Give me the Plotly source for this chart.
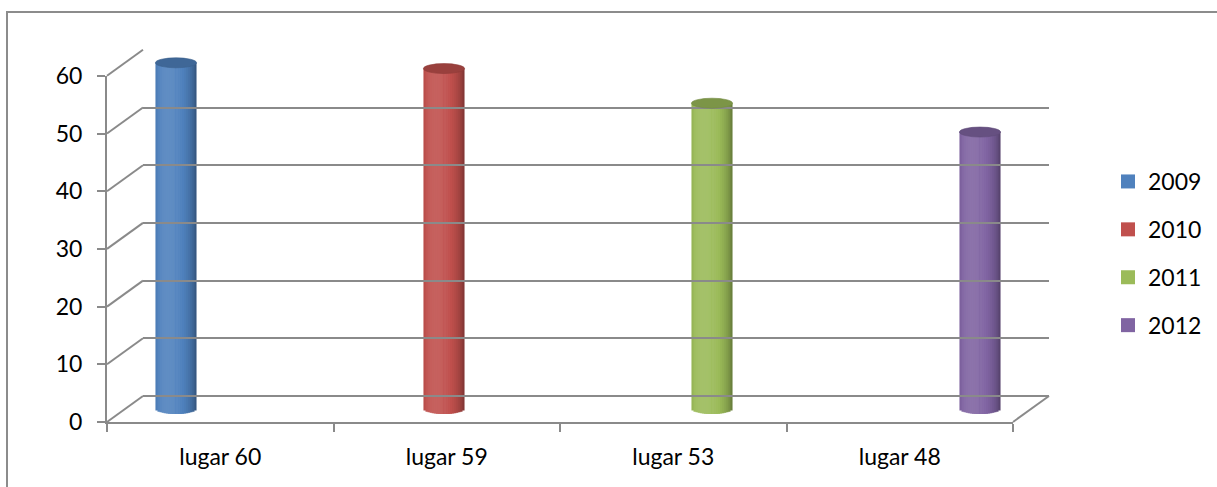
import math
import plotly.graph_objects as go

# ---- data ----
categories = ["lugar 60", "lugar 59", "lugar 53", "lugar 48"]
series_names = ["2009", "2010", "2011", "2012"]
values = [60, 59, 53, 48]
series_colors = ["#4f81bd", "#c0504d", "#9bbb59", "#8064a2"]
y_ticks = [0, 10, 20, 30, 40, 50, 60]

# ---- page geometry (pixels) ----
W, H = 1217, 487
FRONT_L, FRONT_R = 107, 1013      # front plane of the x axis
FRONT_ZERO = 422                  # y pixel of value 0 on the front plane
PX_PER_UNIT = 5.77                # pixels per value unit
DEPTH_DX, DEPTH_DY = 36, -26      # shift from front plane to back wall
Y_MAX = 60
GRID = "#8a8a8a"
FONT = "Lato"
FS = 23


def xdom(l, r):
    return [l / W, r / W]


def ydom(top, bottom):
    return [1 - bottom / H, 1 - top / H]


def px_to_paper(x, y):
    return x / W, 1 - y / H


# plane positions
mid_dx, mid_dy = DEPTH_DX / 2, DEPTH_DY / 2
mid_zero = FRONT_ZERO + mid_dy
back_zero = FRONT_ZERO + DEPTH_DY

# bar axes: mid-depth plane, range padded so caps are not clipped
bar_lo, bar_hi = -3, 66
bar_dom = ydom(mid_zero - bar_hi * PX_PER_UNIT, mid_zero - bar_lo * PX_PER_UNIT)

n_cat = len(categories)
group_frac = 0.733                 # share of a category occupied by the group
slot = group_frac / len(series_names)
diam = slot * 0.99
cap_half = 5.0 / PX_PER_UNIT       # half-height of the elliptical cap (value units)


def shade(hex_color, f):
    h = hex_color.lstrip("#")
    r, g, b = (int(h[i:i + 2], 16) for i in (0, 2, 4))
    if f <= 1:
        r, g, b = (c * f for c in (r, g, b))
    else:
        r, g, b = (c + (255 - c) * (f - 1) for c in (r, g, b))
    return "rgb(%d,%d,%d)" % (max(0, min(255, r)), max(0, min(255, g)), max(0, min(255, b)))


def cyl_light(t):
    # t in [0,1] across the cylinder; light from front-left
    theta = math.asin(max(-1.0, min(1.0, 2 * t - 1)))
    return 0.72 + 0.38 * math.cos(theta + 0.40)


fig = go.Figure()

# cylinder bodies built from vertical strips; each strip reaches the centre
# line so later strips cover the earlier ones without seams
K = 20
half = K // 2
offsets_c = [(i - (len(series_names) - 1) / 2) * slot for i in range(len(series_names))]
strip_w = diam / K
order = list(range(half)) + list(range(K - 1, half - 1, -1))
for k in order:
    t = (k + 0.5) / K
    rel = 2 * t - 1
    base = -cap_half * math.sqrt(max(0.0, 1 - rel * rel))
    if k < half:
        start = -diam / 2 + k * strip_w
        width = diam / 2 - k * strip_w + strip_w * 0.3
    else:
        start = -strip_w * 0.3
        width = (k + 1) * strip_w - diam / 2 + strip_w * 0.3
    fig.add_trace(go.Bar(
        x=list(range(n_cat)),
        y=[v - base for v in values],
        base=[base] * n_cat,
        offset=[offsets_c[i] + start for i in range(n_cat)],
        width=width,
        marker=dict(color=[shade(c, cyl_light(t)) for c in series_colors], line=dict(width=0)),
        showlegend=False, hoverinfo="skip",
        xaxis="x", yaxis="y",
    ))

# legend entries
for name, col in zip(series_names, series_colors):
    fig.add_trace(go.Scatter(
        x=[None], y=[None], mode="markers", name=name,
        marker=dict(symbol="square", size=14, color=col, line=dict(width=0)),
        legendgroup=name, xaxis="x", yaxis="y",
    ))

shapes = []
# top caps of the cylinders
for i, (v, col) in enumerate(zip(values, series_colors)):
    cx = i + offsets_c[i]
    shapes.append(dict(
        type="circle", xref="x", yref="y", layer="above",
        x0=cx - diam / 2, x1=cx + diam / 2, y0=v - cap_half, y1=v + cap_half,
        fillcolor=shade(col, 0.8), line=dict(width=0.6, color=shade(col, 0.74)),
    ))

# side wall lines from the front axis to the back wall
for v in y_ticks:
    x0, y0 = px_to_paper(FRONT_L, FRONT_ZERO - v * PX_PER_UNIT)
    x1, y1 = px_to_paper(FRONT_L + DEPTH_DX, back_zero - v * PX_PER_UNIT)
    shapes.append(dict(type="line", xref="paper", yref="paper", x0=x0, y0=y0, x1=x1, y1=y1,
                       line=dict(color=GRID, width=2), layer="below"))
# right edge of the floor
x0, y0 = px_to_paper(FRONT_R, FRONT_ZERO)
x1, y1 = px_to_paper(FRONT_R + DEPTH_DX, back_zero)
shapes.append(dict(type="line", xref="paper", yref="paper", x0=x0, y0=y0, x1=x1, y1=y1,
                   line=dict(color=GRID, width=2), layer="below"))
# chart area frame
shapes.append(dict(type="rect", xref="paper", yref="paper",
                   x0=7 / W, x1=1.05, y0=-0.05, y1=1 - 12 / H,
                   line=dict(color="#8c8c8c", width=2), fillcolor="rgba(0,0,0,0)", layer="below"))

fig.update_layout(
    width=W, height=H,
    autosize=False,
    margin=dict(l=0, r=0, t=0, b=0, pad=0, autoexpand=False),
    paper_bgcolor="white", plot_bgcolor="rgba(0,0,0,0)",
    barmode="overlay",
    font=dict(family=FONT, size=FS, color="black"),
    shapes=shapes,
    # bars (mid-depth plane)
    xaxis=dict(domain=xdom(FRONT_L + mid_dx, FRONT_R + mid_dx), range=[-0.5, n_cat - 0.5],
               visible=False, fixedrange=True),
    yaxis=dict(domain=bar_dom, range=[bar_lo, bar_hi], visible=False, fixedrange=True),
    # front plane: tick labels and axis lines
    xaxis2=dict(domain=xdom(FRONT_L, FRONT_R), type="category",
                categoryorder="array", categoryarray=categories,
                range=[-0.5, n_cat - 0.5],
                anchor="y2", showline=True, linecolor=GRID, linewidth=2,
                ticks="outside", tickson="boundaries", ticklen=8, tickcolor=GRID, tickwidth=2,
                showgrid=False, zeroline=False, ticklabelstandoff=13,
                tickfont=dict(family=FONT, size=FS, color="black")),
    yaxis2=dict(domain=ydom(FRONT_ZERO - Y_MAX * PX_PER_UNIT, FRONT_ZERO), range=[0, Y_MAX],
                anchor="x2", tickvals=y_ticks, showline=True, linecolor=GRID, linewidth=2,
                ticks="outside", ticklen=8, tickcolor=GRID, tickwidth=2,
                showgrid=False, zeroline=False, ticklabelstandoff=10,
                tickfont=dict(family=FONT, size=FS, color="black")),
    # back wall gridlines
    xaxis3=dict(domain=xdom(FRONT_L + DEPTH_DX, FRONT_R + DEPTH_DX), range=[0, 1],
                anchor="y3", visible=False),
    yaxis3=dict(domain=ydom(back_zero - Y_MAX * PX_PER_UNIT, back_zero), range=[0, Y_MAX],
                anchor="x3", tickvals=y_ticks, showticklabels=False, ticks="",
                showgrid=True, gridcolor=GRID, gridwidth=2,
                zeroline=True, zerolinecolor=GRID, zerolinewidth=2, showline=False),
    legend=dict(x=1108 / W, xanchor="left", y=1 - 160 / H, yanchor="top",
                tracegroupgap=15, bgcolor="rgba(0,0,0,0)",
                font=dict(family=FONT, size=FS, color="black")),
)

# invisible traces so the front and back axes are drawn
fig.add_trace(go.Scatter(x=categories, y=[None] * n_cat, xaxis="x2", yaxis="y2",
                         showlegend=False, hoverinfo="skip"))
fig.add_trace(go.Scatter(x=[0, 1], y=[None, None], xaxis="x3", yaxis="y3",
                         showlegend=False, hoverinfo="skip"))

fig.write_html("out.html")
